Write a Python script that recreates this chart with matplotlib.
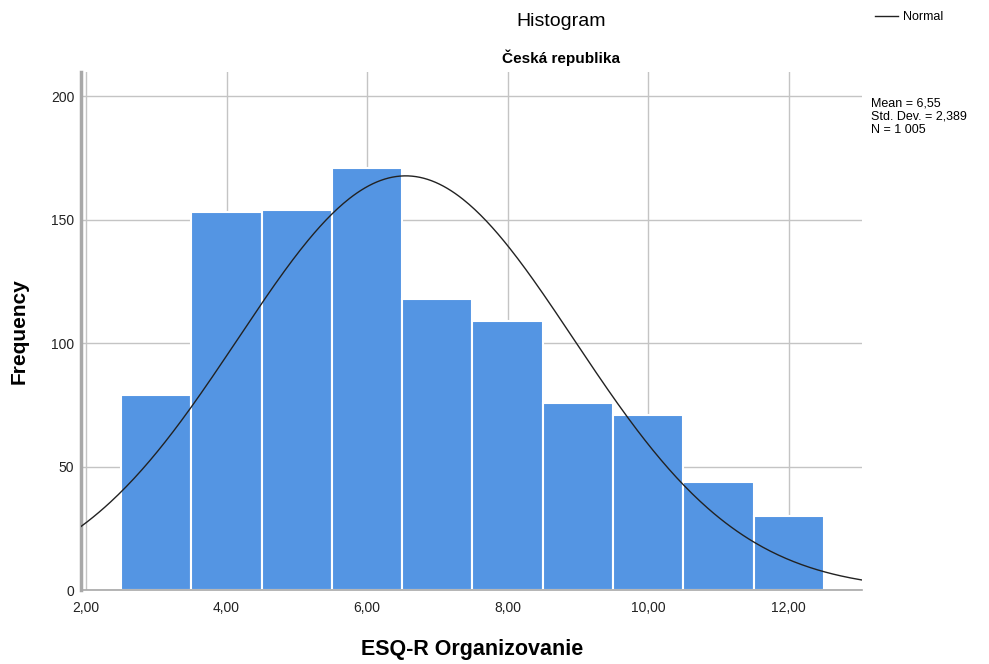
import numpy as np
import matplotlib.pyplot as plt

plt.rcParams['font.family'] = ['Liberation Sans', 'DejaVu Sans']

# bins of width 1 centred on 3..12
bin_centers = [3, 4, 5, 6, 7, 8, 9, 10, 11, 12]
counts = [79, 153, 154, 171, 118, 109, 76, 71, 44, 30]
mean = 6.55
std = 2.389
n = 1005
xticks = [2, 4, 6, 8, 10, 12]
yticks = [0, 50, 100, 150, 200]

fig = plt.figure(figsize=(9.89, 6.64), dpi=100)
ax = fig.add_axes([0.082, 0.111, 0.79, 0.781])

ax.bar(bin_centers, counts, width=1.0, color='#5495e3', edgecolor='white',
       linewidth=1.5, zorder=2)

# fitted normal curve scaled to counts (bin width 1)
xs = np.linspace(1.93, 13.05, 400)
pdf = n * 1.0 / (std * np.sqrt(2 * np.pi)) * np.exp(-0.5 * ((xs - mean) / std) ** 2)
ax.plot(xs, pdf, color='#222222', linewidth=1.0, zorder=3)

ax.set_xlim(1.93, 13.05)
ax.set_ylim(0, 210)
ax.set_xticks(xticks)
ax.set_xticklabels([('%.2f' % v).replace('.', ',') for v in xticks])
ax.set_yticks(yticks)
ax.tick_params(length=0, labelsize=10, colors='#222222')
ax.tick_params(axis='x', pad=8)
ax.tick_params(axis='y', pad=5)
ax.grid(True, color='#c4c4c4', linewidth=1.0, zorder=0)
ax.set_axisbelow(True)

for s in ['top', 'right']:
    ax.spines[s].set_visible(False)
ax.spines['left'].set_color('#a8a8a8')
ax.spines['left'].set_linewidth(2.5)
ax.spines['bottom'].set_color('#a8a8a8')
ax.spines['bottom'].set_linewidth(1.2)

ax.set_xlabel('ESQ-R Organizovanie', fontsize=15.5, fontweight='bold', labelpad=17)
ax.set_ylabel('Frequency', fontsize=15, fontweight='bold', labelpad=16)

fig.text(0.567, 0.968, 'Histogram', ha='center', va='center', fontsize=14)
fig.text(0.567, 0.913, 'Česká republika', ha='center', va='center',
         fontsize=11, fontweight='bold')

# legend
fig.lines.append(plt.Line2D([0.885, 0.908], [0.976, 0.976], color='#222222',
                            linewidth=1.0, transform=fig.transFigure))
fig.text(0.913, 0.975, 'Normal', ha='left', va='center', fontsize=9)

fig.text(0.881, 0.853,
         'Mean = 6,55\nStd. Dev. = 2,389\nN = 1 005',
         ha='left', va='top', fontsize=9, linespacing=1.15)

fig.savefig('out.png', dpi=100)
